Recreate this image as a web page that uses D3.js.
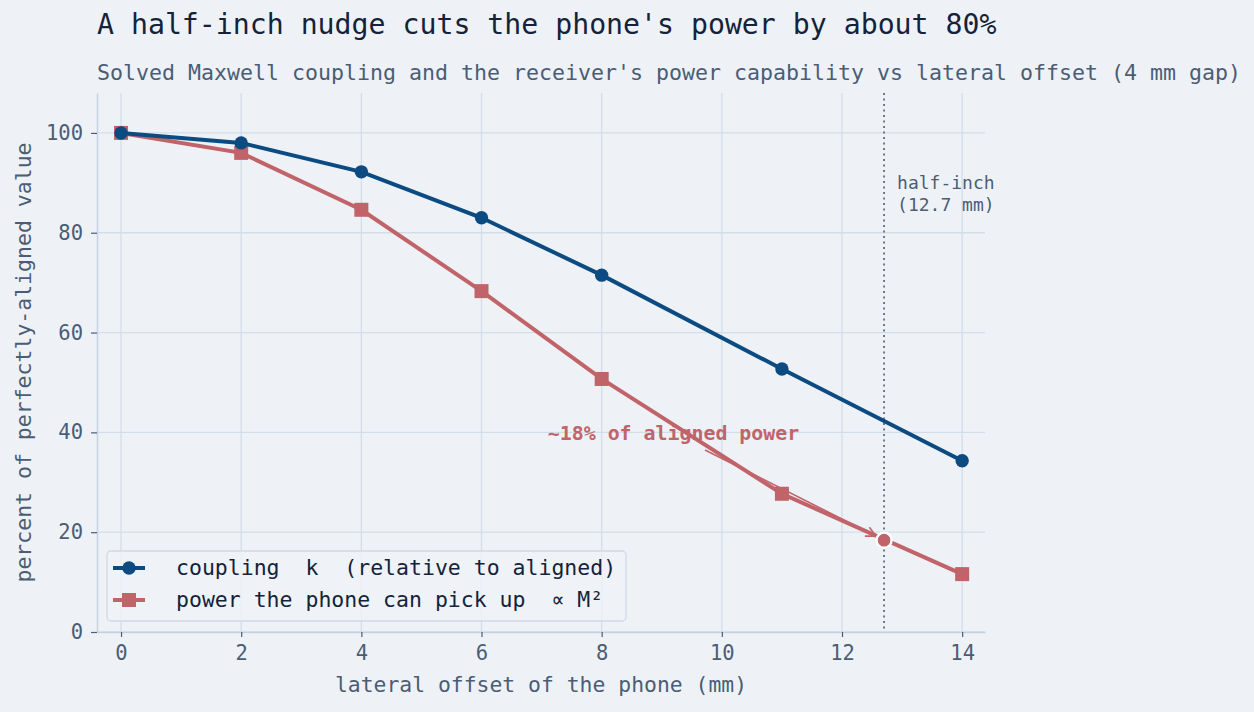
<!DOCTYPE html>
<meta charset="utf-8">
<style>
body { margin: 0; background: #eef2f7; }
text { font-family: "DejaVu Sans Mono", monospace; white-space: pre; }
</style>
<body>
<div id="content"></div>
<script src="https://d3js.org/d3.v7.min.js"></script>
<script>
var width = 1254,
    height = 712;

// offsets (mm) and the two series, percent of aligned value
var offsets = [0, 2, 4, 6, 8, 11, 14];
var coupling = [100, 98.0, 92.2, 83.0, 71.5, 52.7, 34.3];
var power = [100, 96.0, 84.6, 68.3, 50.7, 27.7, 11.6];
var halfInch = 12.7;
var halfInchPower = 18.4;
var xTicks = [0, 2, 4, 6, 8, 10, 12, 14];
var yTicks = [0, 20, 40, 60, 80, 100];

var blue = "#0c4a82",
    red = "#c1646a",
    grid = "#d3dde8",
    ink = "#4b5d75";

var svg = d3.select("#content").append("svg")
    .attr("width", width)
    .attr("height", height)
    .style("background", "#eef2f7");

var x = d3.scaleLinear().domain([-0.4, 14.38]).range([97, 985]);
var y = d3.scaleLinear().domain([0, 108]).range([632, 93]);

// grid
svg.append("g").selectAll("line")
    .data(xTicks).enter().append("line")
    .attr("x1", d => x(d)).attr("x2", d => x(d))
    .attr("y1", y(0)).attr("y2", y(108))
    .style("stroke", grid).style("stroke-width", 1.3);
svg.append("g").selectAll("line")
    .data(yTicks).enter().append("line")
    .attr("x1", x(-0.4)).attr("x2", x(14.38))
    .attr("y1", d => y(d)).attr("y2", d => y(d))
    .style("stroke", grid).style("stroke-width", 1.3);

// axes
var xAxis = svg.append("g")
    .attr("transform", "translate(0," + y(0) + ")")
    .call(d3.axisBottom(x).tickValues(xTicks).tickSize(5).tickPadding(8).tickSizeOuter(0));
var yAxis = svg.append("g")
    .attr("transform", "translate(" + x(-0.4) + ",0)")
    .call(d3.axisLeft(y).tickValues(yTicks).tickSize(6).tickPadding(8).tickSizeOuter(0));
[xAxis, yAxis].forEach(a => {
  a.select(".domain").style("stroke", "#c5d1df").style("stroke-width", 1.5);
  a.selectAll(".tick line").style("stroke", ink).style("stroke-width", 1.2);
  a.selectAll(".tick text")
    .style("font-family", "DejaVu Sans Mono, monospace")
    .style("font-size", "20.5px")
    .style("fill", ink);
});

// half-inch marker
svg.append("line")
    .attr("x1", x(halfInch)).attr("x2", x(halfInch))
    .attr("y1", y(108)).attr("y2", y(0))
    .style("stroke", ink).style("stroke-width", 1.6)
    .style("stroke-dasharray", "2,3.5");
svg.append("text")
    .attr("x", x(halfInch) + 13).attr("y", 189)
    .style("font-size", "18px").style("fill", ink)
    .text("half-inch");
svg.append("text")
    .attr("x", x(halfInch) + 13).attr("y", 211)
    .style("font-size", "18px").style("fill", ink)
    .text("(12.7 mm)");

var line = d3.line()
    .x((d, i) => x(offsets[i]))
    .y(d => y(d));

// power series
svg.append("path")
    .datum(power)
    .attr("d", line)
    .style("fill", "none").style("stroke", red).style("stroke-width", 4);
svg.selectAll(".sq")
    .data(power).enter().append("rect")
    .attr("class", "sq")
    .attr("x", (d, i) => x(offsets[i]) - 7)
    .attr("y", d => y(d) - 7)
    .attr("width", 14).attr("height", 14)
    .style("fill", red);

// coupling series
svg.append("path")
    .datum(coupling)
    .attr("d", line)
    .style("fill", "none").style("stroke", blue).style("stroke-width", 4);
svg.selectAll(".dot")
    .data(coupling).enter().append("circle")
    .attr("class", "dot")
    .attr("cx", (d, i) => x(offsets[i]))
    .attr("cy", d => y(d))
    .attr("r", 6.7)
    .style("fill", blue);

// annotation with arrow
svg.append("defs").append("marker")
    .attr("id", "arrow")
    .attr("viewBox", "0 0 12 12")
    .attr("refX", 11).attr("refY", 6)
    .attr("markerWidth", 12).attr("markerHeight", 12)
    .attr("markerUnits", "userSpaceOnUse")
    .attr("orient", "auto")
    .append("path")
    .attr("d", "M1,1 L11,6 L1,11")
    .style("fill", "none").style("stroke", red).style("stroke-width", 1.6);
svg.append("line")
    .attr("x1", 705).attr("y1", 450)
    .attr("x2", x(halfInch) - 8).attr("y2", y(halfInchPower) - 4)
    .style("stroke", red).style("stroke-width", 1.6)
    .attr("marker-end", "url(#arrow)");
svg.append("text")
    .attr("x", 673.5).attr("y", 440)
    .attr("text-anchor", "middle")
    .style("font-size", "19.9px").style("font-weight", "bold").style("fill", red)
    .text("~18% of aligned power");

svg.append("circle")
    .attr("cx", x(halfInch)).attr("cy", y(halfInchPower))
    .attr("r", 7.5)
    .style("fill", red).style("stroke", "#ffffff").style("stroke-width", 2.4);

// legend
var legend = svg.append("g").attr("transform", "translate(107,551)");
legend.append("rect")
    .attr("width", 519).attr("height", 70).attr("rx", 4)
    .style("fill", "#eef2f7").style("fill-opacity", 0.85)
    .style("stroke", "#cfd9e6").style("stroke-width", 1.3);
var entries = [
  {label: "coupling  k  (relative to aligned)", color: blue, shape: "circle"},
  {label: "power the phone can pick up  \u221d M\u00b2", color: red, shape: "square"}
];
entries.forEach((e, i) => {
  var g = legend.append("g").attr("transform", "translate(0," + (17 + i * 32) + ")");
  g.append("line").attr("x1", 6).attr("x2", 38)
    .style("stroke", e.color).style("stroke-width", 4);
  if (e.shape === "circle") {
    g.append("circle").attr("cx", 22).attr("r", 6.7).style("fill", e.color);
  } else {
    g.append("rect").attr("x", 15).attr("y", -7).attr("width", 14).attr("height", 14).style("fill", e.color);
  }
  g.append("text").attr("x", 69).attr("y", 7)
    .attr("xml:space", "preserve")
    .style("font-size", "21.5px").style("fill", "#14233a")
    .text(e.label);
});

// labels
svg.append("text")
    .attr("x", 541).attr("y", 692)
    .attr("text-anchor", "middle")
    .style("font-size", "21.4px").style("fill", ink)
    .text("lateral offset of the phone (mm)");
svg.append("text")
    .attr("transform", "translate(31," + y(54) + ") rotate(-90)")
    .attr("text-anchor", "middle")
    .style("font-size", "21.5px").style("fill", ink)
    .text("percent of perfectly-aligned value");

svg.append("text")
    .attr("x", 97).attr("y", 34)
    .style("font-size", "28.2px").style("fill", "#14233a")
    .text("A half-inch nudge cuts the phone's power by about 80%");
svg.append("text")
    .attr("x", 97).attr("y", 80)
    .style("font-size", "21.6px").style("fill", ink)
    .text("Solved Maxwell coupling and the receiver's power capability vs lateral offset (4 mm gap)");
</script>
